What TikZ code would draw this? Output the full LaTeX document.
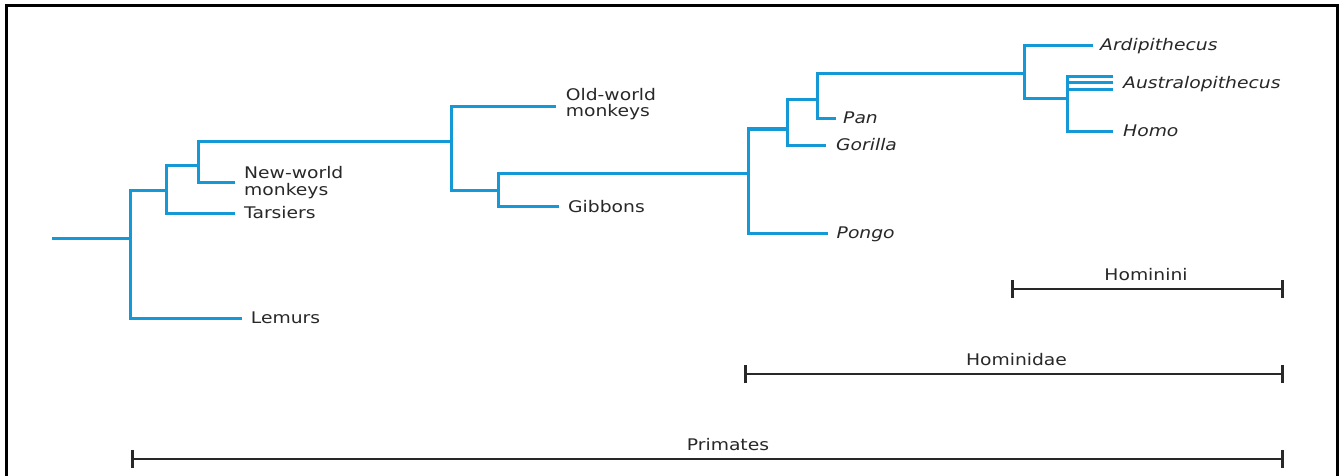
\documentclass[tikz,border=0pt]{standalone}
\usepackage{fontspec}
\setmainfont{DejaVu Sans}[FakeStretch=1.17]
\definecolor{treeblue}{RGB}{20,152,214}
\definecolor{inkgray}{RGB}{40,40,40}
\begin{document}
\begin{tikzpicture}[x=1pt,y=-1pt,
  br/.style={draw=treeblue, line width=3pt, line join=miter},
  lbl/.style={anchor=base west, inner sep=0pt, text=inkgray, align=left,
              font=\fontsize{16}{16.5}\selectfont},
  ilbl/.style={lbl, font=\fontsize{16}{16.5}\selectfont\itshape},
  clade/.style={anchor=base, inner sep=0pt, text=inkgray, font=\fontsize{16}{16.5}\selectfont},
  scalebar/.style={draw=inkgray, line width=2pt},
  tickmark/.style={draw=inkgray, line width=3pt},
  frameline/.style={draw=black, line width=3pt, line join=miter}]
\useasboundingbox (0,0) rectangle (1340,476);
\fill[white] (0,0) rectangle (1340,476);
% frame (open at the bottom)
\coordinate (fBL) at (6,476);
\coordinate (fTL) at (6,6);
\coordinate (fTR) at (1337,6);
\coordinate (fBR) at (1337,476);
\draw[frameline] (fBL) -- (fTL) -- (fTR) -- (fBR);
% internal nodes
\coordinate (r0) at (52,238.3);
\coordinate (n1) at (130.7,238.3);
\coordinate (n2) at (166.7,190.7);
\coordinate (n3) at (198.5,165);
\coordinate (n4) at (451,141.7);
\coordinate (n5) at (498,190.7);
\coordinate (n6) at (748,173.3);
\coordinate (n7) at (787,129);
\coordinate (n8) at (817,99.3);
\coordinate (n9) at (1024,73.3);
\coordinate (n10) at (1067,99);
% tips
\coordinate (tLem) at (241.7,318);
\coordinate (tTar) at (235,213.3);
\coordinate (tNwm) at (235,182.7);
\coordinate (tOwm) at (556,106.7);
\coordinate (tGib) at (559,206.7);
\coordinate (tPon) at (828,233.3);
\coordinate (tGor) at (826,145);
\coordinate (tPan) at (836,118.3);
\coordinate (tArd) at (1093,45.5);
\coordinate (tAu1) at (1113,76.7);
\coordinate (tAu2) at (1113,82.9);
\coordinate (tAu3) at (1113,89.3);
\coordinate (tHom) at (1113,131);
% branches
\draw[br] (r0) -- (n1);
\draw[br] (n1) |- (n2);
\draw[br] (n1) |- (tLem);
\draw[br] (n2) |- (n3);
\draw[br] (n2) |- (tTar);
\draw[br] (n3) |- (n4);
\draw[br] (n3) |- (tNwm);
\draw[br] (n4) |- (tOwm);
\draw[br] (n4) |- (n5);
\draw[br] (n5) |- (n6);
\draw[br] (n5) |- (tGib);
\draw[br] (n6) |- (n7);
\draw[br] (n6) |- (tPon);
\draw[br] (n7) |- (n8);
\draw[br] (n7) |- (tGor);
\draw[br] (n8) |- (n9);
\draw[br] (n8) |- (tPan);
\draw[br] (n9) |- (tArd);
\draw[br] (n9) |- (n10);
\draw[br] (n10) |- (tAu1);
\draw[br] (n10) |- (tAu2);
\draw[br] (n10) |- (tAu3);
\draw[br] (n10) |- (tHom);
% leaf labels
\node[lbl] (Lem) at (250.7,323.5) {Lemurs};
\node[lbl] (Tar) at (244,218.8) {Tarsiers};
\node[lbl] (Nwm) at (244,195) {New-world\\monkeys};
\node[lbl] (Owm) at (565.7,116.8) {Old-world\\monkeys};
\node[lbl] (Gib) at (568,212.2) {Gibbons};
\node[ilbl] (Pon) at (836.5,238.8) {Pongo};
\node[ilbl] (Gor) at (836,150.5) {Gorilla};
\node[ilbl] (Pan) at (843,123.8) {Pan};
\node[ilbl] (Ard) at (1100,50.8) {Ardipithecus};
\node[ilbl] (Aus) at (1123,88.5) {Australopithecus};
\node[ilbl] (Hom) at (1123,136.5) {Homo};
% clade bars
\coordinate (hiL) at (1012,289);
\coordinate (hiR) at (1282,289);
\coordinate (hdL) at (745.7,374);
\coordinate (hdR) at (1282,374);
\coordinate (prL) at (132.7,459);
\coordinate (prR) at (1282,459);
\draw[scalebar] (hiL) -- (hiR);
\draw[scalebar] (hdL) -- (hdR);
\draw[scalebar] (prL) -- (prR);
\foreach \c in {hiL,hiR,hdL,hdR,prL,prR}{
  \draw[tickmark] ([yshift=-9pt]\c) -- ([yshift=9pt]\c);
}
\node[clade] (hiLab) at (1146,280.5) {Hominini};
\node[clade] (hdLab) at (1016.5,365.5) {Hominidae};
\node[clade] (prLab) at (728,450.5) {Primates};
\end{tikzpicture}
\end{document}
